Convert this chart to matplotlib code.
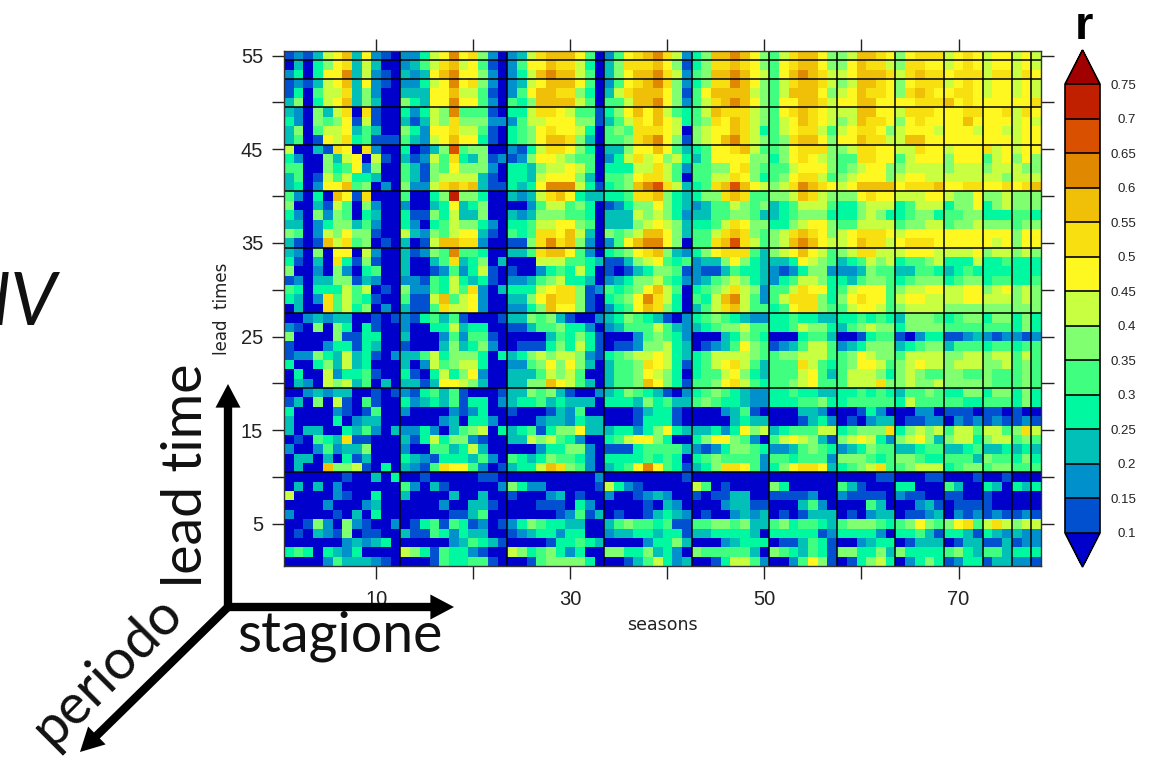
import numpy as np
import matplotlib
matplotlib.use("Agg")
import matplotlib.pyplot as plt
from matplotlib.colors import BoundaryNorm, ListedColormap

# r levels, one character per cell, top row (lead time 55) first
# blocks are the seasons of decreasing length: 12,11,10,9,8,7,6,5,4,3,2,1
rows = [
    "121378a38210 22478b89620 2379aaa850 2589ab972 46aaba86 579aa86 67aa98 68999 7898 788 78 7",
    "030468937300 23579a78510 2588a99740 36999a861 4699a986 589aa86 68a997 69988 7898 788 78 7",
    "240488b37210 3238ab88620 247abaa750 368aab972 56aaba87 58aba97 78aaa9 79a99 8999 799 79 8",
    "121378a38210 22478b89620 2378aaa850 2589ab962 4699ba86 579aa97 67aa98 68999 7898 788 78 7",
    "140577936200 33388a77510 258aa99640 379aaa861 58aaaa76 57aaa86 78a998 69a98 8998 788 78 7",
    "360478a36300 64388b88520 546aaaa750 557aab862 579aba86 588aa97 88aa88 88999 a898 888 88 9",
    "320637909100 42476b55510 4479987551 468a8a754 57a99976 589a987 77aa88 79998 8899 889 79 8",
    "420656817100 31376966622 2577888661 35798a874 5698a976 578a987 67a998 68988 88a8 888 78 7",
    "360577835300 64288977510 4568988740 565999870 6788a974 5789975 789986 78887 8887 887 78 8",
    "350187945111 53278a88410 4568aa9630 5569ab861 678ab976 569aa86 88a997 7aa88 8888 888 78 8",
    "700319809200 40136c56600 2147998640 33688a853 45889a75 5689996 679988 77988 7888 978 78 8",
    "420063780710 31275943612 1268876550 247978674 35888866 4689876 559988 57888 6888 578 68 6",
    "550064582600 53165866620 4436778750 444779752 55668965 5578886 567886 67777 6777 677 76 6",
    "350175744300 53167777310 4437888630 556899750 55779864 5689975 678886 78877 7777 776 77 7",
    "340288a56020 62279a9a311 4348bbb741 456abc973 459aca87 679ba98 78aaaa 8999a 8899 889 89 a",
    "52040a819000 50046d66400 32379a8433 44599a643 4669a955 667a976 668988 77788 7668 667 66 6",
    "600317506200 20034834600 0025775640 124668643 23557656 3457775 446777 45777 4668 467 66 6",
    "420626504300 41164733600 3236665540 333767642 33556653 3456664 446764 45664 5566 444 55 4",
    "330246635200 42045766420 4457788650 333678763 44579866 4467886 557777 56677 5667 666 56 6",
    "650276866100 73265788310 545998a730 6567aa863 5579a965 679a986 789998 78888 8888 888 68 8",
    "3101a7956010 3017aa99200 1169b9a620 258abb860 559ac975 67aba87 78a997 89998 8888 878 68 8",
    "320608807200 31265b55400 3359aa8520 45689a632 46899953 678a875 679977 78887 7778 677 67 6",
    "410309416100 30035934603 0007775543 113678545 23368643 3348765 345767 45567 4447 445 44 4",
    "600206204500 30012524710 1002454740 101346651 21135443 2124662 223655 33554 3454 444 44 4",
    "120336613200 22154743410 2235674430 234667542 23567643 2457764 435665 45666 4566 455 44 5",
    "540444757010 62254759203 4447899612 54568a750 45679762 5579884 578885 67788 7788 678 67 6",
    "430295754100 5117a578200 3368a99610 4568b9740 547ab752 5799964 689885 78877 7788 777 67 6",
    "030095746020 31159778200 2246a88610 2458a9640 3579a755 4589965 578875 67777 6666 666 66 6",
    "002323300101 21453510001 3365631002 346543102 45654322 4454433 445454 36665 4566 466 46 4",
    "210606404100 20044734400 1135564420 235557532 34566755 4457664 356766 46666 5555 555 46 4",
    "600006114400 30002525510 0000354641 000256542 00034654 0004553 001455 10244 1123 212 21 2",
    "100024414300 10003634620 0111464741 011266743 01235865 1235775 234666 34566 3555 455 45 5",
    "122643734102 33574666404 3467677621 456778743 45777765 5667775 568766 57777 6677 677 57 5",
    "400463734000 30275677400 2256868630 355698741 45789753 5559754 568875 67877 6777 667 56 5",
    "040072445100 41047468200 3335767500 355687640 45578643 5557853 577764 67655 6655 655 56 5",
    "032076735030 33138876300 3366a87530 3556a8641 55689754 5567855 577796 67667 6666 655 56 5",
    "002323300101 21453510001 3365631002 346543102 45654322 4454433 445454 35565 4466 466 46 4",
    "130607105100 42343514402 3445343330 444364533 56544322 4445564 455555 47555 5544 555 46 4",
    "400002101500 20000212400 1000132500 000134410 00023510 0003320 001420 00220 1110 110 10 0",
    "300004023300 00002304420 0002332433 000144410 00003433 0001342 010233 01122 0212 121 12 1",
    "303300435203 22420356704 3451466833 344246843 33424867 3455577 456669 46767 5775 775 69 7",
    "010543911000 31474662100 3376754200 457886400 46886520 5787631 678742 67863 6774 677 56 5",
    "200252336000 20055347300 0002446620 111455553 21246654 2235654 234655 33455 3345 334 34 3",
    "033030413000 43214443520 5434655420 444454540 45655552 5545552 666545 66544 5553 655 46 4",
    "0300a6671040 32159885201 3447a96520 3458b8541 34699852 4689983 456795 56777 4566 566 55 5",
    "000000100304 00100000110 0000000002 000000001 00000000 0000000 000011 00011 0001 001 00 0",
    "030302000000 52031000002 6422000001 742100000 75010000 6400000 531000 44000 5300 430 43 4",
    "700002100400 30000300300 1000230100 200123200 10113300 1111200 211110 21100 1100 100 00 0",
    "000020002300 00002003310 0001110420 000010320 00023311 0003520 000530 00231 0111 100 00 0",
    "200001030400 00000113500 0000012513 010013432 01002323 0101333 010233 01123 0212 121 12 1",
    "001620621002 01451541201 2465443300 356554511 55665633 5645543 566654 56865 6895 797 67 7",
    "010321601100 31154243300 1234424400 233443441 33444430 4444412 444420 44531 4431 432 32 2",
    "000000232340 00000235431 0000144543 000024463 00023444 0113541 002344 01333 0133 113 12 2",
    "454043240000 76415442100 7645642400 664463420 65555530 6543541 664463 64444 5643 553 44 4",
    "000025333210 00015445510 0015666640 001357423 00147752 0025861 014674 02464 1244 133 22 1",
]
season_lengths = [12, 11, 10, 9, 8, 7, 6, 5, 4, 3, 2, 1]
lead_groups = [1, 2, 3, 4, 5, 6, 7, 8, 9]  # rows per group from the top, 1 to 9 then 10
r_levels = [0.1, 0.15, 0.2, 0.25, 0.3, 0.35, 0.4, 0.45, 0.5, 0.55, 0.6, 0.65, 0.7, 0.75]
r_labels = ["0.1", "0.15", "0.2", "0.25", "0.3", "0.35", "0.4", "0.45", "0.5", "0.55", "0.6", "0.65", "0.7", "0.75"]
colors = ["#0000CC", "#0050D0", "#0090CC", "#00C0B8", "#00F8A0", "#40FF80", "#80FF70",
          "#C8FF40", "#FFF820", "#F8E010", "#F0C008", "#E08800", "#D85000", "#C02000", "#A00000"]

W, H = 1156, 759
cells = [r.replace(" ", "") for r in rows]

# level index -> r at the middle of its class
mids = np.r_[0.075, (np.array(r_levels[:-1]) + np.array(r_levels[1:])) / 2, 0.775]
r = np.array([[mids[int(ch, 16)] for ch in c] for c in cells])[::-1]

plt.rcParams["font.family"] = ["Liberation Sans", "DejaVu Sans"]
fig = plt.figure(figsize=(W / 100, H / 100), dpi=100)

cmap = ListedColormap(colors[1:-1])
cmap.set_under(colors[0])
cmap.set_over(colors[-1])
norm = BoundaryNorm(r_levels, cmap.N)

ax = fig.add_axes([284 / W, 1 - 566 / H, (1041 - 284) / W, (566 - 51) / H])
mesh = ax.pcolormesh(np.arange(0.5, 79), np.arange(0.5, 56), r, cmap=cmap, norm=norm)

# season and lead time blocks
x_edge = 0.5
for n in season_lengths[:-1]:
    x_edge += n
    ax.axvline(x_edge, color="black", lw=1.1)
y_edge = 55.5
for n in lead_groups:
    y_edge -= n
    ax.axhline(y_edge, color="black", lw=1.1)

ax.set_xlim(0.5, 78.5)
ax.set_ylim(0.5, 55.5)
ax.set_xticks(np.arange(10, 71, 10))
ax.set_xticklabels(["10", "", "30", "", "50", "", "70"])
ax.set_yticks(np.arange(5, 56, 5))
ax.set_yticklabels(["5", "", "15", "", "25", "", "35", "", "45", "", "55"])
ax.tick_params(axis="both", length=9, width=1, color="#222222", top=True, right=True,
               labelsize=14.5, labelcolor="#222222")
ax.tick_params(axis="x", pad=8)
ax.tick_params(axis="y", pad=6)
for s in ax.spines.values():
    s.set_linewidth(1)
    s.set_color("#333333")
ax.set_xlabel("seasons", family="DejaVu Sans", fontsize=12.5, labelpad=5, color="#222222")
ax.set_ylabel("lead  times", family="DejaVu Sans", fontsize=12, labelpad=7, color="#222222")

# axes holds bar plus triangles, the interior runs 84 to 532
cax = fig.add_axes([1065 / W, 1 - 567 / H, 35 / W, (567 - 50) / H])
cbar = fig.colorbar(mesh, cax=cax, extend="both", extendfrac=34 / 448, drawedges=True,
                    ticks=r_levels, spacing="uniform")
cbar.outline.set_linewidth(1.2)
cbar.dividers.set_linewidth(1.2)
cax.set_yticklabels(r_labels)
cax.tick_params(length=0, pad=26, labelsize=9.5, labelcolor="#222222")
for t in cax.get_yticklabels():
    t.set_ha("right")

# annotations on top of everything, in pixels
over = fig.add_axes([0, 0, 1, 1], facecolor="none")
over.set_xlim(0, W)
over.set_ylim(H, 0)
over.axis("off")

arrow = dict(facecolor="black", edgecolor="black", width=6, headwidth=18, headlength=17, shrink=0, lw=0)
origin = (228, 607)
for tip in [(228, 384), (454, 607), (80, 752)]:
    over.annotate("", xy=tip, xytext=origin, arrowprops=arrow)

big = dict(family="Lato", color="#111111", fontsize=40)
over.text(186, 475, "lead time", rotation=90, ha="center", va="center", **big)
over.text(340, 636, "stagione", ha="center", va="center", **big)
over.text(108, 672, "periodo", rotation=45, ha="center", va="center", rotation_mode="anchor", **big)
over.text(57, 325, "NV", family="Lato", style="italic", fontsize=53, ha="right", va="baseline", color="#111111")
over.text(1084, 39, "r", family="Liberation Sans", weight="bold", fontsize=34, ha="center", va="baseline", color="black")
over.text(293, -4, "p", fontsize=11, ha="center", va="baseline", color="#222222")

fig.savefig("out.png", dpi=100)
